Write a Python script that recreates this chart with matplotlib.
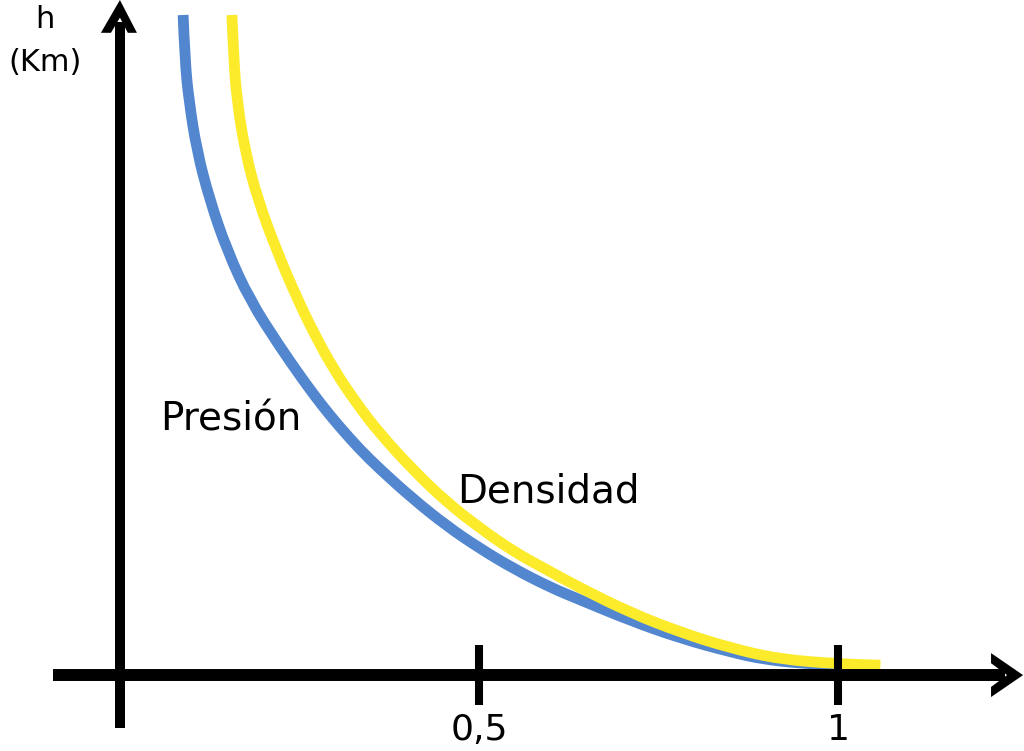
"""Presión y densidad frente a la altura"""

import matplotlib
matplotlib.use("Agg")
import matplotlib.pyplot as plt
from matplotlib.path import Path
from matplotlib.patches import PathPatch, Polygon

# Valores: x relativo (0..1), h en km (escala 0..100)
presion_x = [0.088, 0.0905, 0.096, 0.107, 0.125, 0.149, 0.181, 0.223, 0.255,
             0.281, 0.306, 0.334, 0.362, 0.408, 0.455, 0.501, 0.547, 0.599,
             0.641, 0.710, 0.780, 0.850, 0.896, 0.947, 1.000]
presion_h = [100.0, 93.2, 87.1, 79.5, 72.0, 64.4, 56.8, 49.7, 44.7,
             40.9, 37.6, 34.2, 31.2, 26.7, 22.6, 19.2, 16.2, 13.3,
             11.4, 8.3, 5.6, 3.5, 2.4, 1.8, 1.5]

densidad_x = [0.156, 0.1585, 0.163, 0.174, 0.192, 0.219, 0.247, 0.272, 0.299,
              0.330, 0.361, 0.408, 0.455, 0.501, 0.547, 0.592, 0.641, 0.710,
              0.780, 0.850, 0.919, 1.000, 1.059]
densidad_h = [100.0, 93.2, 87.1, 79.5, 72.0, 64.1, 57.0, 51.4, 46.1,
              41.1, 36.7, 31.1, 26.2, 22.3, 18.8, 16.1, 13.2, 9.5,
              6.5, 4.1, 2.4, 1.7, 1.5]

ticks = [0.5, 1]
tick_labels = ["0,5", "1"]

plt.rcParams["font.family"] = ["DejaVu Sans"]


def curva_suave(xs, ys):
    # curva cuadrática que pasa por los puntos medios (sin quiebres)
    verts = [(xs[0], ys[0])]
    codes = [Path.MOVETO]
    for i in range(1, len(xs) - 1):
        verts += [(xs[i], ys[i]), ((xs[i] + xs[i + 1]) / 2, (ys[i] + ys[i + 1]) / 2)]
        codes += [Path.CURVE3, Path.CURVE3]
    verts.append((xs[-1], ys[-1]))
    codes.append(Path.LINETO)
    return Path(verts, codes)


fig = plt.figure(figsize=(10.24, 7.51), dpi=100)
ax = fig.add_axes([0, 0, 1, 1])
ax.set_xlim(-0.167, 1.259)
ax.set_ylim(-11.5, 102.27)
ax.axis("off")

# ejes con flechas
ax.plot([-0.093, 1.233], [0, 0], color="black", lw=8.6, solid_capstyle="butt")
ax.plot([0, 0], [-8.0, 99.0], color="black", lw=7.2, solid_capstyle="butt")
ax.add_patch(Polygon([(1.2131, 3.33), (1.2577, 0), (1.2131, -3.33), (1.2131, -1.8),
                      (1.2354, 0), (1.2131, 1.8)], closed=True, color="black", lw=0))
ax.add_patch(Polygon([(-0.0265, 97.3), (0, 102.27), (0.0237, 97.3), (0.0110, 97.3),
                      (0, 99.6), (-0.0125, 97.3)], closed=True, color="black", lw=0))

# marcas
for t, lab in zip(ticks, tick_labels):
    ax.plot([t, t], [-4.55, 4.55], color="black", lw=5.8, solid_capstyle="butt")
    ax.text(t, -9.9, lab, ha="center", va="baseline", fontsize=26)

# curvas
ax.add_patch(PathPatch(curva_suave(presion_x, presion_h), fill=False,
                       edgecolor="#5287D0", lw=7.8, capstyle="butt"))
ax.add_patch(PathPatch(curva_suave(densidad_x, densidad_h), fill=False,
                       edgecolor="#FBEB2B", lw=7.8, capstyle="butt"))

ax.text(0.056, 37.1, "Presión", ha="left", va="baseline", fontsize=28)
ax.text(0.469, 26.1, "Densidad", ha="left", va="baseline", fontsize=28)
ax.text(-0.1045, 98.0, "h", ha="center", va="baseline", fontsize=22)
ax.text(-0.1045, 91.5, "(Km)", ha="center", va="baseline", fontsize=22)

fig.savefig("out.png", dpi=100)
